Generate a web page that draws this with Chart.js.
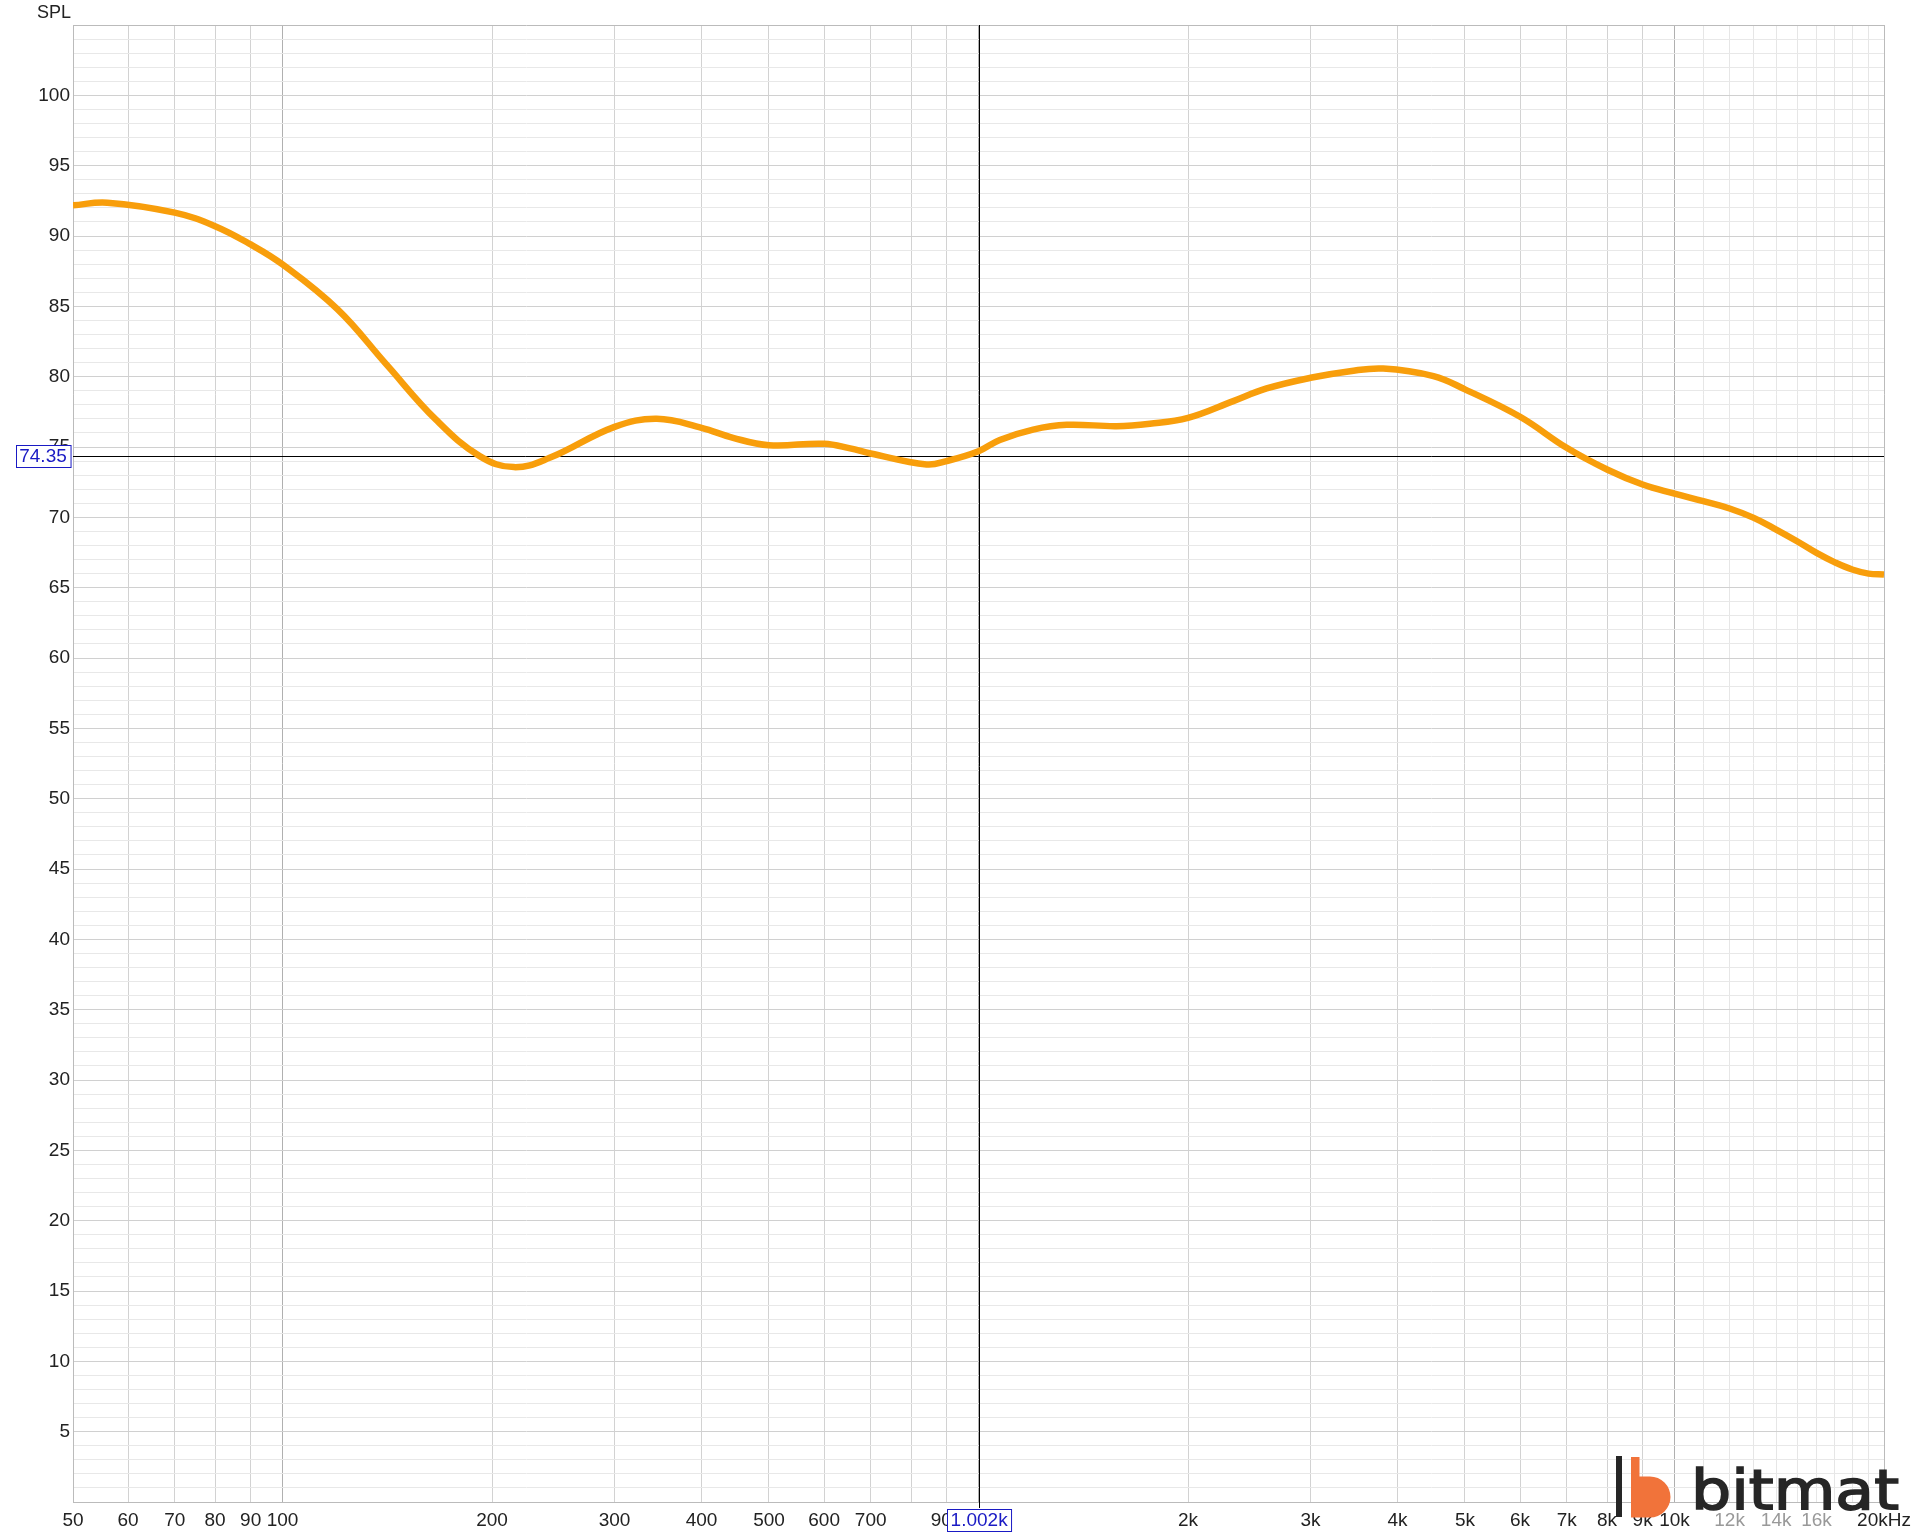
<!DOCTYPE html>
<html>
<head>
<meta charset="utf-8">
<script src="https://cdn.jsdelivr.net/npm/chart.js@4.4.1/dist/chart.umd.min.js"></script>
<style>
    html, body { margin: 0; padding: 0; background: #fff; }
    .wrap { width: 1920px; height: 1535px; position: relative; }
</style>
</head>
<body>
<div class="wrap"><canvas class="js-spl-chart"></canvas></div>
<script>
// frequency response
const freqs = [50, 56, 70, 80, 90, 100, 120, 141, 166, 192, 215, 242, 300, 345, 400, 444, 500, 600, 654, 700, 842, 900, 1000, 1073, 1198, 1339, 1579, 1763, 2000, 2323, 2594, 3000, 3418, 3815, 4505, 5000, 6000, 7000, 8000, 9000, 10000, 11000, 12000, 13000, 14000, 15000, 16000, 17000, 18000, 19000, 20000]
const spl = [92.18, 92.37, 91.66, 90.7, 89.4, 87.98, 84.78, 80.87, 76.96, 74.35, 73.57, 74.23, 76.43, 77.0, 76.36, 75.65, 75.13, 75.23, 74.9, 74.54, 73.76, 74.0, 74.7, 75.5, 76.24, 76.58, 76.48, 76.65, 77.07, 78.26, 79.16, 79.92, 80.39, 80.58, 80.04, 79.1, 77.15, 74.94, 73.4, 72.33, 71.69, 71.15, 70.63, 69.96, 69.13, 68.3, 67.47, 66.8, 66.29, 66.0, 65.93]

const xGridValues = [50, 60, 70, 80, 90, 100, 200, 300, 400, 500, 600, 700, 800, 900, 1000, 2000, 3000, 4000, 5000, 6000, 7000, 8000, 9000, 10000, 11000, 12000, 13000, 14000, 15000, 16000, 17000, 18000, 19000, 20000]
const xLabelValues = [50, 60, 70, 80, 90, 100, 200, 300, 400, 500, 600, 700, 900, 2000, 3000, 4000, 5000, 6000, 7000, 8000, 9000, 10000, 12000, 14000, 16000, 20000]
const xLabelTexts = ['50', '60', '70', '80', '90', '100', '200', '300', '400', '500', '600', '700', '900', '2k', '3k', '4k', '5k', '6k', '7k', '8k', '9k', '10k', '12k', '14k', '16k', '20kHz']
const xDimLabels = [12000, 14000, 16000]

const cursorFreq = 1002
const cursorSpl = 74.35

const FONT = 'Liberation Sans, Arial, sans-serif'

function drawBox(ctx, text, cx, cy) {
    ctx.font = '19px ' + FONT
    const w = ctx.measureText(text).width + 7
    const h = 22
    const x = Math.round(cx - w / 2) + 0.5
    const y = Math.round(cy - h / 2) + 0.5
    ctx.fillStyle = '#fff'
    ctx.fillRect(x, y, w, h)
    ctx.strokeStyle = '#1a1ac4'
    ctx.lineWidth = 1
    ctx.strokeRect(x, y, w, h)
    ctx.fillStyle = '#1a1ac4'
    ctx.textAlign = 'center'
    ctx.textBaseline = 'middle'
    ctx.fillText(text, cx, cy + 1)
}

const cursorPlugin = {
    id: 'cursor',
    beforeDatasetsDraw(chart) {
        const { ctx, scales: { x, y }, chartArea } = chart
        const px = Math.round(x.getPixelForValue(cursorFreq)) + 0.5
        const py = Math.round(y.getPixelForValue(cursorSpl)) + 0.5
        ctx.save()
        ctx.strokeStyle = '#000'
        ctx.lineWidth = 1
        ctx.beginPath()
        ctx.moveTo(chartArea.left, py)
        ctx.lineTo(chartArea.right, py)
        ctx.moveTo(px, chartArea.top)
        ctx.lineTo(px, chartArea.bottom + 6)
        ctx.stroke()
        ctx.restore()
    },
    afterDraw(chart) {
        const { ctx, scales: { x, y } } = chart
        const px = x.getPixelForValue(cursorFreq)
        const py = y.getPixelForValue(cursorSpl)
        ctx.save()
        drawBox(ctx, cursorSpl.toFixed(2), 43, py)
        drawBox(ctx, (cursorFreq / 1000).toFixed(3) + 'k', px, 1519.5)

        // axis title
        ctx.fillStyle = '#222'
        ctx.font = '18px ' + FONT
        ctx.textAlign = 'right'
        ctx.textBaseline = 'alphabetic'
        ctx.fillText('SPL', 71, 17.5)

        // watermark logo
        ctx.fillStyle = '#262626'
        ctx.fillRect(1616, 1456, 6, 61)
        ctx.fillStyle = '#f1733a'
        ctx.beginPath()
        ctx.moveTo(1631, 1457)
        ctx.lineTo(1639.5, 1457)
        ctx.lineTo(1639.5, 1476.5)
        ctx.lineTo(1650, 1476.5)
        ctx.arc(1650, 1497, 20.5, -Math.PI / 2, Math.PI / 2)
        ctx.lineTo(1631, 1517.5)
        ctx.closePath()
        ctx.fill()
        ctx.fillStyle = '#262626'
        ctx.strokeStyle = '#262626'
        ctx.lineWidth = 1.6
        ctx.font = '55px DejaVu Sans'
        ctx.textAlign = 'left'
        const tw = ctx.measureText('bitmat').width
        ctx.translate(1691, 1509)
        ctx.scale(208 / tw, 1)
        ctx.fillText('bitmat', 0, 0)
        ctx.strokeText('bitmat', 0, 0)
        ctx.restore()
    }
}

document.addEventListener('DOMContentLoaded', () => {
    const ctx = document.querySelector('.js-spl-chart')
    new Chart(ctx, {
        type: 'line',
        data: {
            datasets: [{
                data: freqs.map((f, i) => ({ x: f, y: spl[i] })),
                borderColor: '#f89e0b',
                borderWidth: 6.5,
                pointRadius: 0,
                tension: 0.4,
                fill: false,
            }]
        },
        options: {
            responsive: true,
            maintainAspectRatio: false,
            animation: false,
            layout: { padding: { top: 25, right: 36, left: 0, bottom: 0 } },
            plugins: {
                legend: { display: false },
                tooltip: { enabled: false },
            },
            scales: {
                x: {
                    type: 'logarithmic',
                    min: 50,
                    max: 20000,
                    afterBuildTicks: scale => {
                        scale.ticks = xGridValues.map(v => ({ value: v }))
                    },
                    afterFit: scale => { scale.height = 33 },
                    border: { color: '#bbb', width: 1 },
                    grid: {
                        drawTicks: false,
                        lineWidth: 1,
                        color: c => {
                            const v = c.tick.value
                            if (v === 20000) return '#bbb'
                            if (v === 100 || v === 1000 || v === 10000) return '#b0b0b0'
                            if (v > 10000) return '#e6e6e6'
                            return '#d2d2d2'
                        },
                    },
                    ticks: {
                        autoSkip: false,
                        maxRotation: 0,
                        padding: 7,
                        font: { family: FONT, size: 19 },
                        color: c => xDimLabels.includes(c.tick.value) ? '#999' : '#222',
                        callback: v => {
                            const i = xLabelValues.indexOf(v)
                            return i < 0 ? '' : xLabelTexts[i]
                        },
                    },
                },
                y: {
                    type: 'linear',
                    min: 0,
                    max: 105,
                    afterFit: scale => { scale.width = 73 },
                    border: { color: '#bbb', width: 1 },
                    grid: {
                        drawTicks: false,
                        lineWidth: 1,
                        color: c => {
                            const v = c.tick.value
                            if (v === 105) return '#bbb'
                            return v % 5 === 0 ? '#d0d0d0' : '#e8e8e8'
                        },
                    },
                    ticks: {
                        stepSize: 1,
                        autoSkip: false,
                        padding: 3,
                        font: { family: FONT, size: 19 },
                        color: '#222',
                        callback: v => (v % 5 === 0 && v > 0 && v < 105) ? String(v) : '',
                    },
                },
            },
        },
        plugins: [cursorPlugin],
    })
})
</script>
</body>
</html>
